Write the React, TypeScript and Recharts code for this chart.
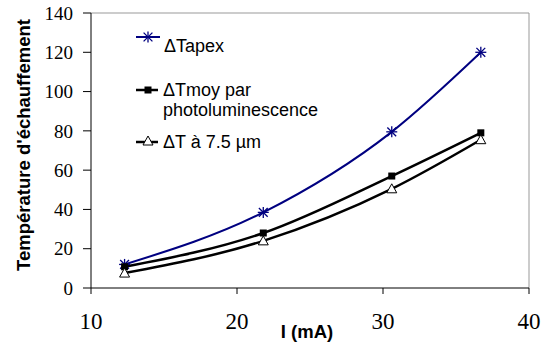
import { LineChart, Line, XAxis, YAxis, ReferenceLine } from "recharts";

const currents = [12.3, 21.8, 30.6, 36.7];
const tApex = [12, 38.5, 79.5, 120];
const tMoy = [10.8, 28, 57, 79];
const t75 = [7.6, 24, 50.5, 75.5];
const xTicks = [10, 20, 30, 40];
const yTicks = [0, 20, 40, 60, 80, 100, 120, 140];

const data = currents.map((x, i) => ({
  x,
  apex: tApex[i],
  moy: tMoy[i],
  t75: t75[i],
}));

const BLUE = "#000080";

function Star({ cx, cy }: any) {
  const r = 5.5;
  return (
    <g stroke={BLUE} strokeWidth={1.3}>
      <line x1={cx - r} y1={cy} x2={cx + r} y2={cy} />
      <line x1={cx} y1={cy - r} x2={cx} y2={cy + r} />
      <line x1={cx - r * 0.8} y1={cy - r * 0.8} x2={cx + r * 0.8} y2={cy + r * 0.8} />
      <line x1={cx - r * 0.8} y1={cy + r * 0.8} x2={cx + r * 0.8} y2={cy - r * 0.8} />
    </g>
  );
}

function Square({ cx, cy }: any) {
  return <rect x={cx - 3.5} y={cy - 3.5} width={7} height={7} fill="#000" />;
}

function Tri({ cx, cy }: any) {
  return (
    <path
      d={`M${cx},${cy - 5} L${cx + 5},${cy + 4} L${cx - 5},${cy + 4} Z`}
      fill="#fff"
      stroke="#000"
      strokeWidth={1}
    />
  );
}

const legendText = { fontFamily: "Liberation Sans, Arial", fontSize: 18, fill: "#000" };

export default function App() {
  return (
    <div style={{ position: "absolute", left: 0, top: 0, width: 547, height: 345, background: "#fff" }}>
      <LineChart width={547} height={345} data={data} margin={{ top: 13, right: 18, bottom: 0, left: 0 }}>
        <XAxis
          dataKey="x"
          type="number"
          domain={[10, 40]}
          ticks={xTicks}
          stroke="#000"
          tickSize={6}
          tickMargin={19}
          height={57}
          tick={{ fill: "#000", fontSize: 23, fontFamily: "Liberation Serif" }}
        />
        <YAxis
          domain={[0, 140]}
          ticks={yTicks}
          stroke="#000"
          tickSize={8}
          tickMargin={10}
          width={91}
          tick={{ fill: "#000", fontSize: 19, fontFamily: "Liberation Serif" }}
        />
        <ReferenceLine y={140} stroke="#999" strokeWidth={1} />
        <ReferenceLine x={40} stroke="#999" strokeWidth={1} />
        <Line
          dataKey="apex"
          type="monotone"
          stroke={BLUE}
          strokeWidth={2}
          dot={<Star />}
          isAnimationActive={false}
        />
        <Line
          dataKey="moy"
          type="monotone"
          stroke="#000"
          strokeWidth={2.5}
          dot={<Square />}
          isAnimationActive={false}
        />
        <Line
          dataKey="t75"
          type="monotone"
          stroke="#000"
          strokeWidth={2.5}
          dot={<Tri />}
          isAnimationActive={false}
        />
      </LineChart>
      <svg width={547} height={345} style={{ position: "absolute", left: 0, top: 0, pointerEvents: "none" }}>
        <text
          x={29.5}
          y={145}
          transform="rotate(-90 29.5 145)"
          textAnchor="middle"
          style={{ fontFamily: "Liberation Sans, Arial", fontSize: 18.5, fontWeight: "bold", fill: "#000" }}
        >
          Température d'échauffement
        </text>
        <text
          x={307}
          y={338}
          textAnchor="middle"
          style={{ fontFamily: "Liberation Sans, Arial", fontSize: 18.5, fontWeight: "bold", fill: "#000" }}
        >
          I (mA)
        </text>

        <line x1={136} y1={37} x2={160} y2={37} stroke={BLUE} strokeWidth={2} />
        <Star cx={148} cy={37} />
        <text x={164} y={52} style={legendText}>ΔTapex</text>

        <line x1={136} y1={90} x2={158} y2={90} stroke="#000" strokeWidth={2.5} />
        <Square cx={148} cy={90} />
        <text x={163} y={96} style={legendText}>ΔTmoy par</text>
        <text x={163} y={116} style={legendText}>photoluminescence</text>

        <line x1={136} y1={142} x2={158} y2={142} stroke="#000" strokeWidth={2.5} />
        <Tri cx={148} cy={141} />
        <text x={163} y={148} style={legendText}>ΔT à 7.5 µm</text>
      </svg>
    </div>
  );
}
